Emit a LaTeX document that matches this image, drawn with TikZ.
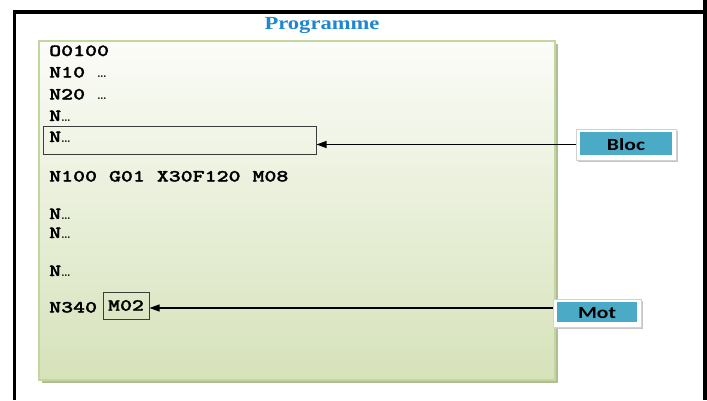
\documentclass[tikz,border=0pt]{standalone}
\usepackage{fontspec}
\usetikzlibrary{arrows.meta,calc,shadows}
\newfontfamily\titlefont{Liberation Serif}[FakeStretch=1.22]
\newfontfamily\labelfont{Carlito}[FakeStretch=1.27]
\newfontfamily\codefont{lmmonolt10-bold.otf}[FakeStretch=1.34,FakeBold=1.6]
\definecolor{titleblue}{RGB}{31,134,208}
\definecolor{panelTop}{RGB}{251,252,248}
\definecolor{panelBottom}{RGB}{214,226,186}
\definecolor{panelEdge}{RGB}{196,214,160}
\definecolor{panelShadow}{RGB}{176,190,148}
\definecolor{tagblue}{RGB}{75,170,198}
\definecolor{boxedge}{RGB}{60,60,60}
\tikzset{
  code/.style={anchor=base west, inner sep=0pt, font=\codefont\fontsize{17}{17}\selectfont},
  hl/.style={draw=boxedge, line width=1pt, inner sep=0pt},
  tag/.style={draw=gray!35, fill=white, line width=0.6pt, inner sep=0pt,
    drop shadow={shadow xshift=1.5pt, shadow yshift=-1.5pt, fill=gray!45, opacity=1},
    font=\labelfont\bfseries\fontsize{17}{17}\selectfont,
    path picture={\fill[tagblue]
      ([shift={(4pt,-3pt)}]path picture bounding box.north west) rectangle
      ([shift={(-4pt,5pt)}]path picture bounding box.south east);}},
  pointer/.style={draw=black, line width=1.1pt, -{Triangle[length=10pt,width=7pt]}},
}
\newcommand{\smalldots}{{\rmfamily\bfseries\fontsize{12}{12}\selectfont\ldots}}
\begin{document}
\begin{tikzpicture}[x=1pt,y=-1pt]
\useasboundingbox (0,0) rectangle (707,400);
% outer frame
\draw[line width=3.6pt] (14.5,400) -- (14.5,12) -- (705,12);
\draw[line width=3.6pt] (705,0) -- (705,400);
% programme panel
\fill[panelShadow] (42,44) rectangle (558,383);
\shade[top color=panelTop, bottom color=panelBottom] (39,41) rectangle (555,380);
\draw[panelEdge, line width=1.2pt] (39,41) rectangle (555,380);
\node[anchor=base, text=titleblue, font=\titlefont\bfseries\fontsize{18.5}{20}\selectfont] (title) at (322,29) {Programme};
% program lines
\node[code] (l1) at (49,56) {O0100};
\node[code] (l2) at (49,77.5) {N10 \smalldots};
\node[code] (l3) at (49,99.5) {N20 \smalldots};
\node[code] (l4) at (49,121) {N\smalldots};
\node[hl, minimum width=273pt, minimum height=28pt] (blocbox) at (179.5,140) {};
\node[code] (l5) at (49,142) {N\smalldots};
\node[code] (l6) at (49,181.5) {N100 G01 X30F120 M08};
\node[code] (l7) at (49,219) {N\smalldots};
\node[code] (l8) at (49,238) {N\smalldots};
\node[code] (l9) at (49,276) {N\smalldots};
\node[code] (l10) at (49,312.5) {N340};
\node[hl, minimum width=46pt, minimum height=27pt, font=\codefont\fontsize{17}{17}\selectfont] (m02) at (126,305.5) {M02};
% labels
\node[tag, minimum width=100pt, minimum height=31pt] (bloc) at (626,144.5) {Bloc};
\node[tag, minimum width=88pt, minimum height=28pt] (mot) at (597,313) {Mot};
\draw[pointer] (bloc.west) -- (blocbox.east |- bloc.west);
\coordinate (motport) at ($(mot.west)+(0,-5)$);
\draw[pointer] (motport) -- (motport -| m02.east);
\end{tikzpicture}
\end{document}
